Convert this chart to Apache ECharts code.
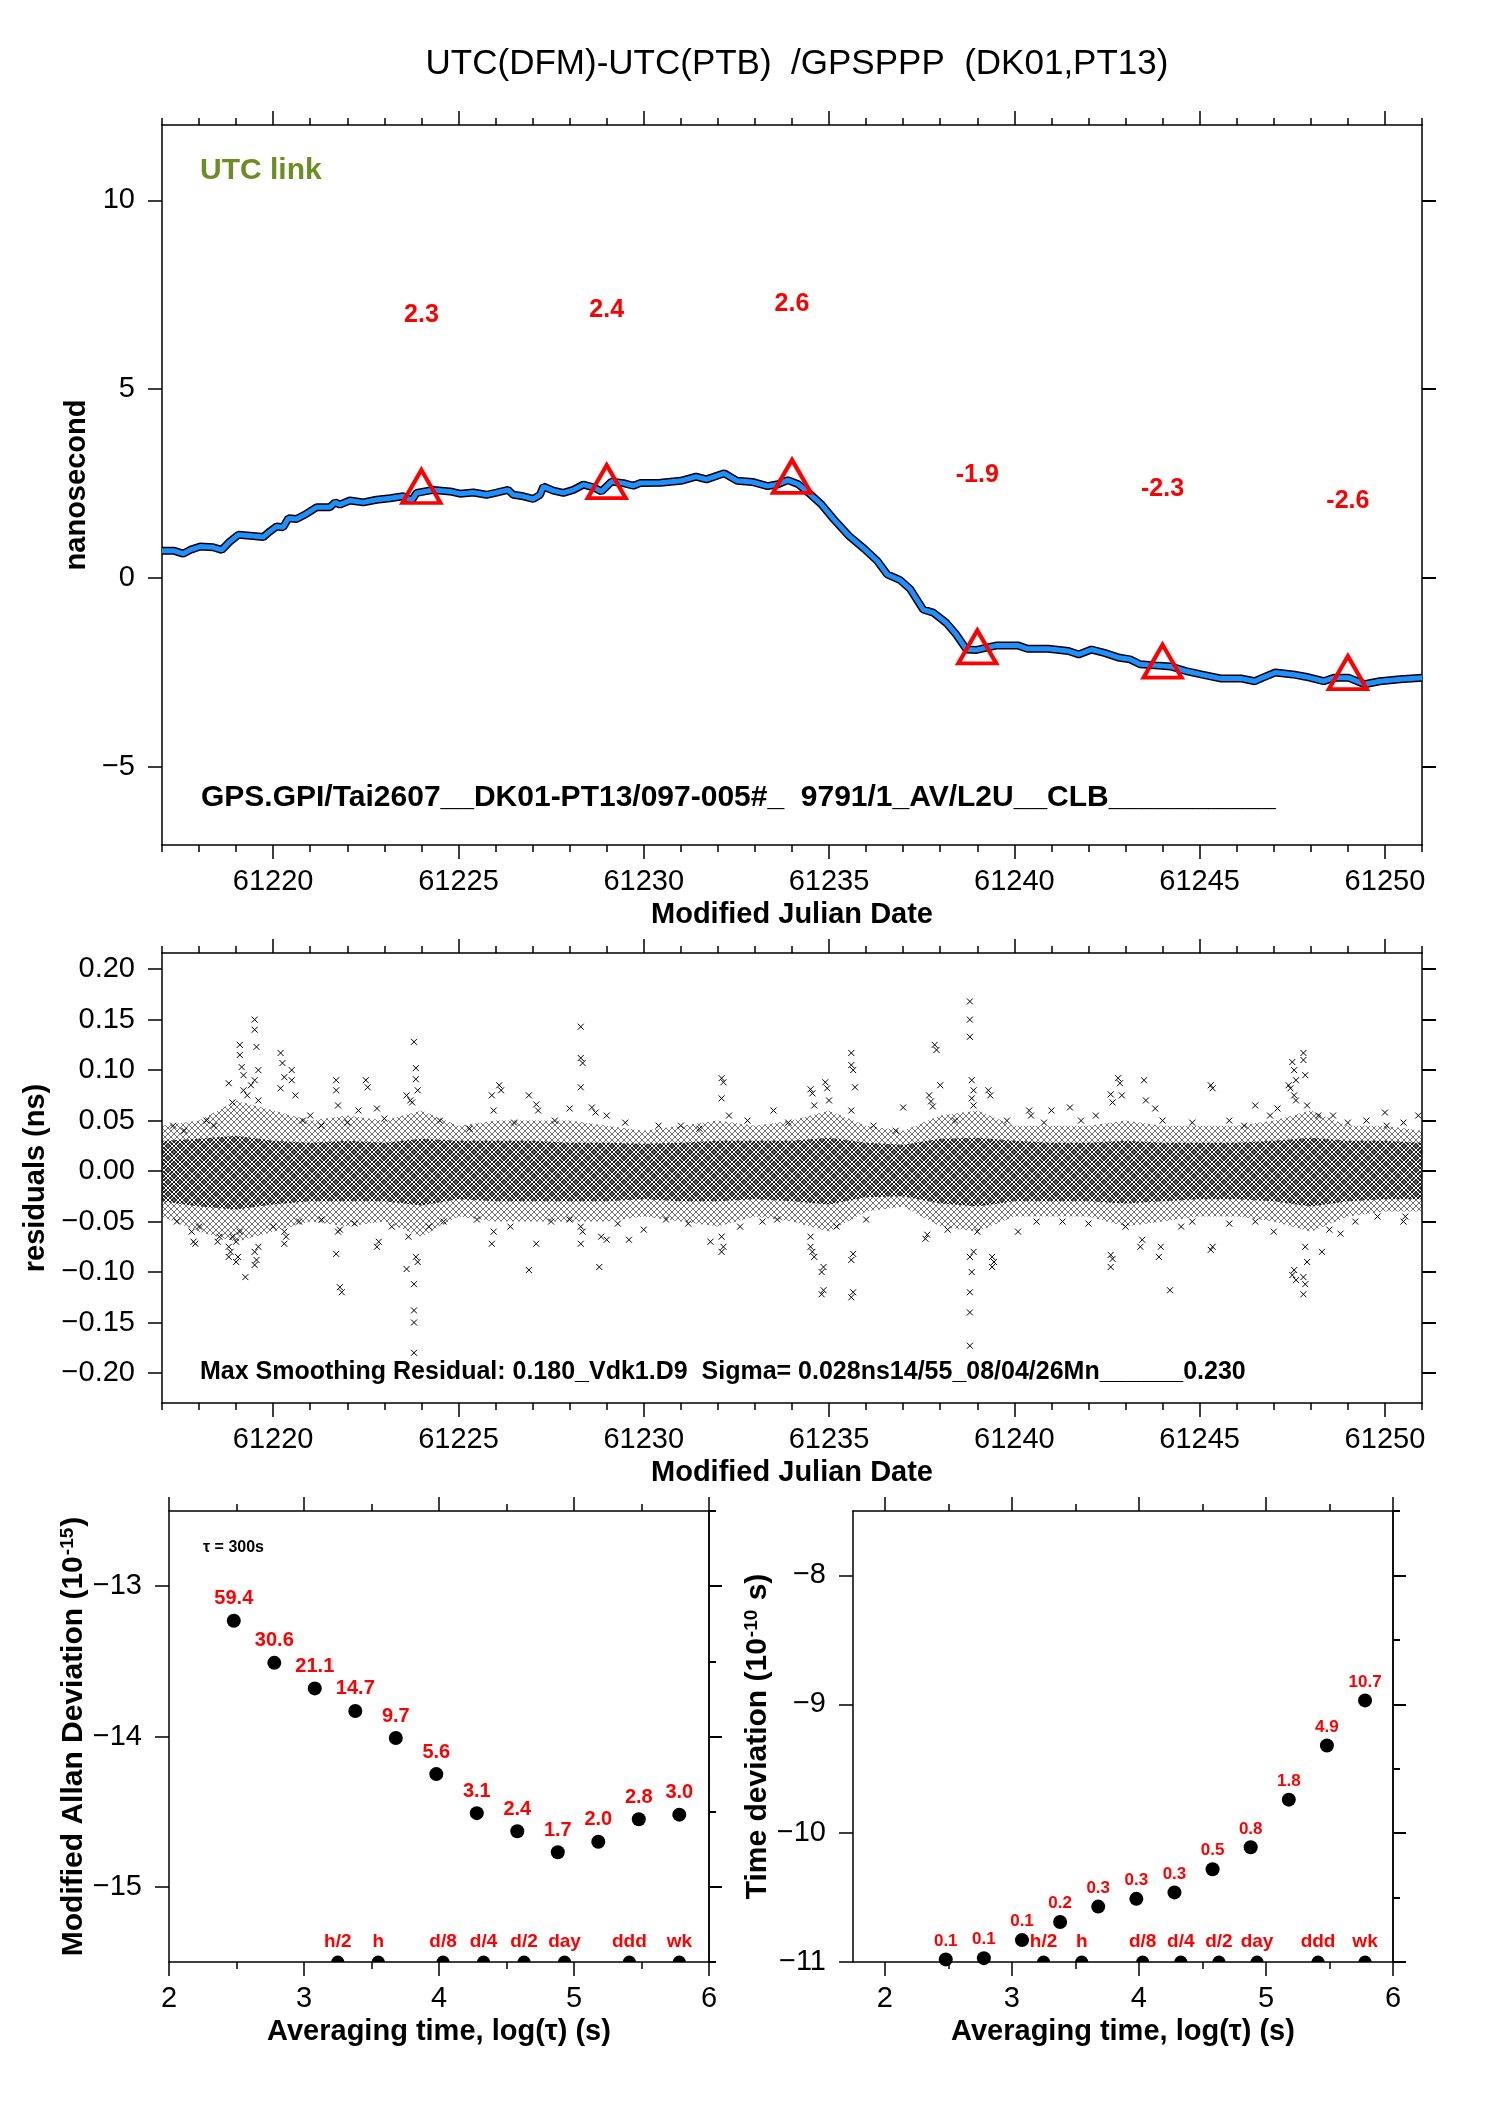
<!DOCTYPE html>
<html>
<head>
<meta charset="utf-8">
<title>UTC(DFM)-UTC(PTB) /GPSPPP (DK01,PT13)</title>
<script src="https://cdn.jsdelivr.net/npm/echarts@6/dist/echarts.min.js"></script>
<style>
  html, body { margin: 0; padding: 0; background: #fff; }
  #main { width: 1488px; height: 2105px; }
</style>
</head>
<body>
<div id="main"></div>
<script>
// ---- top panel: smoothed link UTC(DFM)-UTC(PTB), ns ----
const linkMjd = [61217.0,61217.31,61217.57,61217.76,61218.03,61218.38,61218.61,61218.83,61219.06,61219.46,
  61219.73,61219.91,61220.09,61220.27,61220.41,61220.63,61220.9,61221.17,61221.53,61221.67,
  61221.8,61222.07,61222.43,61222.79,61223.15,61223.51,61223.74,61223.87,61224.32,61224.77,
  61225.04,61225.4,61225.76,61226.03,61226.34,61226.48,61226.75,61227.02,61227.2,61227.29,
  61227.56,61227.83,61228.1,61228.37,61228.64,61228.86,61229.13,61229.45,61229.72,61229.9,
  61230.45,61231.0,61231.41,61231.69,61232.17,61232.52,61232.93,61233.34,61233.62,61233.89,
  61234.17,61234.44,61234.79,61235.13,61235.54,61235.96,61236.3,61236.57,61236.92,61237.19,
  61237.54,61237.81,61238.16,61238.43,61238.71,61238.98,61239.26,61239.53,61240.09,61240.36,
  61240.91,61241.46,61241.74,61242.08,61242.43,61242.84,61243.12,61243.39,61243.8,61244.22,
  61244.63,61245.04,61245.59,61246.14,61246.49,61246.69,61247.04,61247.52,61247.86,61248.35,
  61248.62,61249.03,61249.45,61249.86,61250.41,61251.0];
const linkNs = [0.72,0.72,0.64,0.74,0.83,0.81,0.74,0.96,1.14,1.11,
  1.08,1.23,1.36,1.34,1.58,1.56,1.70,1.87,1.87,2.00,
  1.94,2.05,2.00,2.07,2.11,2.16,2.05,2.25,2.33,2.29,
  2.23,2.26,2.20,2.26,2.33,2.20,2.16,2.09,2.20,2.42,
  2.31,2.25,2.33,2.47,2.40,2.29,2.55,2.51,2.44,2.51,
  2.52,2.57,2.68,2.61,2.77,2.57,2.54,2.43,2.48,2.59,
  2.48,2.26,1.95,1.55,1.11,0.76,0.45,0.09,-0.06,-0.30,
  -0.84,-0.92,-1.19,-1.50,-1.90,-1.91,-1.85,-1.79,-1.79,-1.88,
  -1.88,-1.94,-2.03,-1.90,-1.99,-2.12,-2.16,-2.29,-2.32,-2.35,
  -2.47,-2.56,-2.67,-2.67,-2.74,-2.65,-2.51,-2.56,-2.62,-2.74,
  -2.65,-2.65,-2.82,-2.74,-2.69,-2.65];

// red triangles (every 5 days) and their printed values
const markMjd = [61224, 61229, 61234, 61239, 61244, 61249];
const markNs = [2.42, 2.55, 2.69, -1.83, -2.21, -2.51];
const markText = ['2.3', '2.4', '2.6', '-1.9', '-2.3', '-2.6'];

const mjdMajor = [61220, 61225, 61230, 61235, 61240, 61245, 61250];
const mjdMinor = [61217,61218,61219,61220,61221,61222,61223,61224,61225,61226,61227,61228,
  61229,61230,61231,61232,61233,61234,61235,61236,61237,61238,61239,61240,61241,61242,
  61243,61244,61245,61246,61247,61248,61249,61250,61251];
const nsTicks = [-5, 0, 5, 10];

// ---- residuals panel ----
const resTicks = [-0.2, -0.15, -0.1, -0.05, 0, 0.05, 0.1, 0.15, 0.2];
const bandMjd = mjdMinor;
const outerUp = [0.045,0.05,0.07,0.06,0.05,0.055,0.05,0.06,0.045,0.05,0.05,0.05,0.045,0.04,0.045,0.05,0.045,0.05,
  0.06,0.045,0.04,0.055,0.06,0.045,0.045,0.045,0.05,0.045,0.045,0.045,0.05,0.06,0.045,0.045,0.04];
const outerLo = [-0.045,-0.06,-0.07,-0.06,-0.05,-0.055,-0.05,-0.065,-0.045,-0.05,-0.05,-0.05,-0.05,-0.045,-0.05,-0.055,-0.045,-0.05,
  -0.06,-0.04,-0.035,-0.055,-0.06,-0.045,-0.045,-0.045,-0.055,-0.05,-0.045,-0.045,-0.05,-0.06,-0.045,-0.04,-0.04];
const innerUp = [0.03,0.032,0.035,0.03,0.028,0.03,0.028,0.032,0.03,0.03,0.03,0.028,0.028,0.027,0.028,0.03,0.03,0.03,
  0.033,0.028,0.026,0.032,0.033,0.03,0.028,0.028,0.03,0.028,0.028,0.028,0.03,0.033,0.03,0.03,0.028];
const innerLo = [-0.03,-0.035,-0.038,-0.033,-0.03,-0.03,-0.03,-0.034,-0.028,-0.03,-0.03,-0.03,-0.03,-0.028,-0.03,-0.03,-0.028,-0.03,
  -0.033,-0.026,-0.025,-0.032,-0.035,-0.03,-0.03,-0.03,-0.032,-0.03,-0.028,-0.028,-0.03,-0.035,-0.03,-0.028,-0.028];
const residualPts = [
  [61218.8,0.087],[61218.9,0.068],[61219.1,0.125],[61219.1,0.115],[61219.15,0.103],[61219.2,0.095],[61219.2,0.080],
  [61219.5,0.150],[61219.5,0.140],[61219.55,0.123],[61219.6,0.100],[61219.5,0.090],[61219.4,0.085],[61219.3,0.075],
  [61219.6,0.070],[61220.2,0.117],[61220.25,0.107],[61220.3,0.093],[61220.2,0.082],[61220.5,0.100],[61220.5,0.090],
  [61220.6,0.075],[61221.0,0.055],[61221.7,0.090],[61221.7,0.080],[61221.75,0.065],[61222.5,0.090],[61222.55,0.083],
  [61222.8,0.062],[61222.3,0.060],[61223.6,0.075],[61223.7,0.070],[61223.75,0.068],[61223.8,0.128],[61223.85,0.102],
  [61223.85,0.091],[61223.9,0.080],[61225.9,0.075],[61225.95,0.060],[61226.1,0.085],[61226.15,0.080],[61226.9,0.075],
  [61227.1,0.066],[61227.15,0.060],[61228.0,0.062],[61228.3,0.143],[61228.3,0.112],[61228.35,0.107],[61228.3,0.083],
  [61228.6,0.063],[61228.7,0.058],[61229.0,0.055],[61231.0,0.045],[61232.1,0.092],[61232.15,0.088],[61232.1,0.072],
  [61232.3,0.055],[61233.5,0.060],[61234.5,0.081],[61234.55,0.077],[61234.6,0.065],[61234.9,0.088],[61234.95,0.082],
  [61235.0,0.070],[61235.6,0.117],[61235.6,0.105],[61235.65,0.100],[61235.7,0.083],[61235.6,0.060],[61237.0,0.063],
  [61237.7,0.075],[61237.75,0.069],[61237.8,0.064],[61237.85,0.125],[61237.9,0.120],[61238.0,0.085],[61238.8,0.168],
  [61238.8,0.150],[61238.8,0.133],[61238.85,0.090],[61238.9,0.080],[61238.85,0.072],[61238.9,0.065],[61239.3,0.080],
  [61239.35,0.075],[61240.4,0.060],[61240.45,0.055],[61241.0,0.060],[61241.5,0.063],[61242.6,0.076],[61242.65,0.068],
  [61242.8,0.092],[61242.85,0.087],[61242.9,0.075],[61243.5,0.090],[61243.55,0.070],[61243.8,0.062],[61245.3,0.085],
  [61245.35,0.082],[61246.5,0.065],[61247.1,0.062],[61247.4,0.085],[61247.45,0.082],[61247.5,0.108],[61247.55,0.100],
  [61247.6,0.090],[61247.55,0.075],[61247.6,0.070],[61247.8,0.117],[61247.8,0.110],[61247.85,0.095],[61247.9,0.065],
  [61248.6,0.055],[61250.0,0.058],[61250.05,0.045],[61250.9,0.055],
  [61217.8,-0.060],[61217.85,-0.070],[61217.9,-0.072],[61218.5,-0.070],[61218.55,-0.065],[61218.8,-0.085],
  [61218.85,-0.080],[61218.8,-0.075],[61218.9,-0.065],[61219.0,-0.090],[61219.05,-0.085],[61219.0,-0.070],
  [61219.1,-0.060],[61219.25,-0.105],[61219.5,-0.093],[61219.55,-0.088],[61219.5,-0.080],[61219.6,-0.075],
  [61220.3,-0.072],[61220.35,-0.065],[61220.3,-0.060],[61221.7,-0.082],[61221.75,-0.060],[61221.8,-0.058],
  [61221.8,-0.115],[61221.85,-0.120],[61222.8,-0.075],[61222.85,-0.070],[61223.6,-0.097],[61223.65,-0.065],
  [61223.8,-0.112],[61223.8,-0.138],[61223.8,-0.150],[61223.8,-0.180],[61223.85,-0.085],[61223.9,-0.090],
  [61224.2,-0.055],[61225.9,-0.072],[61225.95,-0.060],[61226.9,-0.098],[61227.1,-0.072],[61228.3,-0.072],
  [61228.35,-0.060],[61228.3,-0.055],[61228.8,-0.095],[61228.85,-0.065],[61229.0,-0.068],[61229.6,-0.068],
  [61230.0,-0.058],[61231.8,-0.070],[61232.1,-0.080],[61232.15,-0.075],[61232.1,-0.065],[61233.2,-0.050],
  [61234.5,-0.075],[61234.55,-0.080],[61234.6,-0.085],[61234.5,-0.065],[61234.8,-0.100],[61234.85,-0.095],
  [61234.8,-0.122],[61234.85,-0.118],[61235.6,-0.125],[61235.65,-0.120],[61235.6,-0.088],[61235.65,-0.082],
  [61237.6,-0.067],[61237.65,-0.063],[61238.8,-0.173],[61238.8,-0.140],[61238.8,-0.120],[61238.85,-0.100],
  [61238.8,-0.085],[61238.9,-0.080],[61239.4,-0.095],[61239.45,-0.090],[61239.4,-0.085],[61240.1,-0.060],
  [61242.6,-0.095],[61242.65,-0.087],[61242.6,-0.083],[61243.4,-0.075],[61243.45,-0.068],[61243.9,-0.085],
  [61243.95,-0.075],[61244.2,-0.118],[61244.5,-0.055],[61245.3,-0.078],[61245.35,-0.075],[61247.5,-0.103],
  [61247.55,-0.098],[61247.6,-0.108],[61247.8,-0.122],[61247.85,-0.112],[61247.8,-0.105],[61247.9,-0.090],
  [61247.85,-0.075],[61248.3,-0.080],[61248.8,-0.062],[61250.5,-0.050],[61250.55,-0.045],
  [61217.3,0.045],[61217.6,0.040],[61218.2,0.050],[61218.4,0.045],[61220.8,0.050],[61221.3,0.045],[61222.0,0.048],
  [61223.0,0.052],[61224.5,0.050],[61225.3,0.042],[61226.5,0.048],[61227.6,0.050],[61229.5,0.048],[61230.4,0.045],
  [61231.5,0.042],[61232.8,0.050],[61233.9,0.048],[61236.2,0.045],[61236.8,0.040],[61238.4,0.050],[61239.8,0.050],
  [61240.8,0.048],[61241.8,0.050],[61242.2,0.055],[61244.0,0.050],[61244.8,0.048],[61245.8,0.050],[61246.2,0.045],
  [61246.9,0.055],[61248.2,0.055],[61249.0,0.048],[61249.5,0.050],[61250.5,0.048],
  [61217.4,-0.050],[61218.0,-0.055],[61220.0,-0.055],[61220.7,-0.050],[61221.3,-0.048],[61222.2,-0.052],
  [61223.2,-0.055],[61224.6,-0.050],[61225.5,-0.048],[61226.4,-0.055],[61227.5,-0.050],[61228.0,-0.048],
  [61229.3,-0.052],[61230.6,-0.048],[61231.2,-0.052],[61232.6,-0.055],[61233.6,-0.048],[61235.2,-0.055],
  [61236.0,-0.048],[61238.2,-0.058],[61239.0,-0.060],[61240.6,-0.050],[61241.3,-0.050],[61242.0,-0.052],
  [61243.0,-0.055],[61244.8,-0.050],[61245.8,-0.052],[61246.5,-0.050],[61247.0,-0.060],[61248.5,-0.058],
  [61249.2,-0.050],[61249.8,-0.045]
];

// ---- stability panels ----
const logTau = [2.48, 2.78, 3.08, 3.38, 3.68, 3.98, 4.28, 4.58, 4.88, 5.18, 5.48, 5.78];
const madevLog = [-13.23, -13.51, -13.68, -13.83, -14.01, -14.25, -14.51, -14.63, -14.77, -14.70, -14.55, -14.52];
const madevText = ['59.4', '30.6', '21.1', '14.7', '9.7', '5.6', '3.1', '2.4', '1.7', '2.0', '2.8', '3.0'];
const tdevLog = [-10.98, -10.97, -10.83, -10.69, -10.57, -10.51, -10.46, -10.28, -10.11, -9.74, -9.32, -8.97];
const tdevText = ['0.1', '0.1', '0.1', '0.2', '0.3', '0.3', '0.3', '0.5', '0.8', '1.8', '4.9', '10.7'];
const spanLog = [3.25, 3.55, 4.03, 4.33, 4.63, 4.93, 5.41, 5.78];
const spanText = ['h/2', 'h', 'd/8', 'd/4', 'd/2', 'day', 'ddd', 'wk'];
const tauMajor = [2, 3, 4, 5, 6];
const tauMinor = [2.5, 3.5, 4.5, 5.5];
const madevTicks = [-15, -14, -13];
const madevMinor = [-15.5, -15, -14.5, -14, -13.5, -13, -12.5];
const tdevTicks = [-11, -10, -9, -8];
const tdevMinor = [-11, -10.5, -10, -9.5, -9, -8.5, -8, -7.5];

const FONT = '"Liberation Sans", Arial, Helvetica, sans-serif';
const AX = { color: '#000', width: 1.5 };
const RED = '#ff0000';

const plain = v => String(v);
const minus = v => (v < 0 ? '\u2212' : '') + Math.abs(v);
const minus2 = v => (v < 0 ? '\u2212' : '') + Math.abs(v).toFixed(2);

// four x axes per panel: bottom with labels, bottom minor, top major, top minor
function frameX(grid, min, max, major, minor, name) {
  const base = { type: 'value', gridIndex: grid, min: min, max: max, splitLine: { show: false } };
  return [
    Object.assign({}, base, {
      position: 'bottom',
      axisLine: { onZero: false, lineStyle: AX },
      axisTick: { length: 14, customValues: major, lineStyle: AX },
      axisLabel: { customValues: major, formatter: plain, margin: 22, fontSize: 29, color: '#000', fontFamily: FONT },
      name: name, nameLocation: 'middle', nameGap: 55,
      nameTextStyle: { fontSize: 29, fontWeight: 'bold', color: '#000', fontFamily: FONT }
    }),
    Object.assign({}, base, {
      position: 'bottom', axisLine: { show: false, onZero: false },
      axisTick: { length: 7, customValues: minor, lineStyle: AX }, axisLabel: { show: false }
    }),
    Object.assign({}, base, {
      position: 'top', axisLine: { onZero: false, lineStyle: AX },
      axisTick: { length: 14, customValues: major, lineStyle: AX }, axisLabel: { show: false }
    }),
    Object.assign({}, base, {
      position: 'top', axisLine: { show: false, onZero: false },
      axisTick: { length: 7, customValues: minor, lineStyle: AX }, axisLabel: { show: false }
    })
  ];
}

function leftY(grid, min, max, ticks, fmt, name, nameGap, nameStyle) {
  return {
    type: 'value', gridIndex: grid, position: 'left', min: min, max: max,
    splitLine: { show: false },
    axisLine: { show: true, onZero: false, lineStyle: AX },
    axisTick: { show: true, length: 14, customValues: ticks, lineStyle: AX },
    axisLabel: { customValues: ticks, formatter: fmt, margin: 27, fontSize: 29, color: '#000', fontFamily: FONT },
    name: name, nameLocation: 'middle', nameGap: nameGap, nameTextStyle: nameStyle
  };
}

function rightY(grid, min, max, ticks, len) {
  return {
    type: 'value', gridIndex: grid, position: 'right', min: min, max: max,
    splitLine: { show: false },
    axisLine: { show: true, onZero: false, lineStyle: AX },
    axisTick: { show: true, length: len, customValues: ticks, lineStyle: { color: '#000', width: 2 } },
    axisLabel: { show: false }
  };
}

function crossFill(step, alpha) {
  const c = document.createElement('canvas');
  c.width = step; c.height = step;
  const g = c.getContext('2d');
  g.strokeStyle = 'rgba(0,0,0,' + alpha + ')';
  g.lineWidth = 1;
  g.beginPath();
  g.moveTo(0, 0); g.lineTo(step, step);
  g.moveTo(step, 0); g.lineTo(0, step);
  g.stroke();
  return { type: 'pattern', image: c, repeat: 'repeat' };
}

function bandSeries(up, lo, fill) {
  return {
    type: 'custom', xAxisIndex: 4, yAxisIndex: 2, silent: true, z: 1,
    data: [[bandMjd[0], 0]],
    renderItem: function (params, api) {
      const pts = [];
      for (let i = 0; i < bandMjd.length; i++) pts.push(api.coord([bandMjd[i], up[i]]));
      for (let i = bandMjd.length - 1; i >= 0; i--) pts.push(api.coord([bandMjd[i], lo[i]]));
      return { type: 'polygon', shape: { points: pts }, style: { fill: fill, stroke: null } };
    }
  };
}

const boldName = { fontSize: 29, fontWeight: 'bold', color: '#000', fontFamily: FONT };
const supName = {
  fontFamily: FONT, color: '#000',
  rich: {
    b: { fontSize: 30, fontWeight: 'bold', fontFamily: FONT, color: '#000' },
    s: { fontSize: 19, fontWeight: 'bold', fontFamily: FONT, color: '#000', verticalAlign: 'top', padding: [0, 1, 12, 1] }
  }
};
const semicircle = 'path://M0,10 A10,10 0 0 1 20,10 Z';

const chart = echarts.init(document.getElementById('main'));
chart.setOption({
  animation: false,
  backgroundColor: '#fff',
  textStyle: { fontFamily: FONT },
  title: {
    text: 'UTC(DFM)-UTC(PTB)  /GPSPPP  (DK01,PT13)',
    left: 797, top: 47, textAlign: 'center', padding: 0,
    textStyle: { fontSize: 35, fontWeight: 'normal', color: '#000', fontFamily: FONT }
  },
  grid: [
    { left: 162, top: 125, width: 1260, height: 720 },
    { left: 162, top: 953, width: 1260, height: 450 },
    { left: 169, top: 1511, width: 540, height: 451 },
    { left: 853, top: 1511, width: 540, height: 451 }
  ],
  xAxis: [].concat(
    frameX(0, 61217, 61251, mjdMajor, mjdMinor, 'Modified Julian Date'),
    frameX(1, 61217, 61251, mjdMajor, mjdMinor, 'Modified Julian Date'),
    frameX(2, 2, 6, tauMajor, tauMinor, 'Averaging time, log(\u03c4) (s)'),
    frameX(3, 1.75, 6, tauMajor, tauMinor, 'Averaging time, log(\u03c4) (s)')
  ),
  yAxis: [
    leftY(0, -7.08, 12, nsTicks, minus, 'nanosecond', 55, boldName),
    rightY(0, -7.08, 12, nsTicks, 14),
    leftY(1, -0.2297, 0.216, resTicks, minus2, 'residuals (ns)', 96, boldName),
    rightY(1, -0.2297, 0.216, resTicks, 14),
    leftY(2, -15.5, -12.5, madevTicks, minus, '{b|Modified Allan Deviation (10}{s|-15}{b|)}', 78, supName),
    rightY(2, -15.5, -12.5, madevTicks, 13),
    rightY(2, -15.5, -12.5, madevMinor, 7),
    leftY(3, -11, -7.5, tdevTicks, minus, '{b|Time deviation (10}{s|-10}{b| s)}', 80, supName),
    rightY(3, -11, -7.5, tdevTicks, 13),
    rightY(3, -11, -7.5, tdevMinor, 7)
  ],
  graphic: [
    { type: 'text', left: 200, top: 156, style: { text: 'UTC link', fill: '#6b8e23', font: 'bold 30px ' + FONT } },
    { type: 'text', left: 201, top: 783, style: { text: 'GPS.GPI/Tai2607__DK01-PT13/097-005#_  9791/1_AV/L2U__CLB__________', fill: '#000', font: 'bold 30px ' + FONT } },
    { type: 'text', left: 200, top: 1360, style: { text: 'Max Smoothing Residual: 0.180_Vdk1.D9  Sigma= 0.028ns14/55_08/04/26Mn______0.230', fill: '#000', font: 'bold 25px ' + FONT } },
    { type: 'text', left: 203, top: 1540, style: { text: '\u03c4 = 300s', fill: '#000', font: 'bold 16px ' + FONT } }
  ],
  series: [
    {
      type: 'line', xAxisIndex: 0, yAxisIndex: 0, showSymbol: false, z: 2,
      data: linkMjd.map((m, i) => [m, linkNs[i]]),
      lineStyle: { color: '#000', width: 8 }
    },
    {
      type: 'line', xAxisIndex: 0, yAxisIndex: 0, showSymbol: false, z: 3,
      data: linkMjd.map((m, i) => [m, linkNs[i]]),
      lineStyle: { color: '#1e90ff', width: 5 }
    },
    {
      type: 'scatter', xAxisIndex: 0, yAxisIndex: 0, z: 4,
      symbol: 'triangle', symbolSize: [38, 33],
      itemStyle: { color: 'rgba(0,0,0,0)', borderColor: RED, borderWidth: 4, opacity: 1 },
      data: markMjd.map((m, i) => [m, markNs[i]]),
      label: {
        show: true, position: 'top', distance: 141,
        formatter: p => markText[p.dataIndex],
        color: RED, fontSize: 25, fontWeight: 'bold', fontFamily: FONT
      }
    },
    bandSeries(outerUp, outerLo, crossFill(6, 0.55)),
    bandSeries(innerUp, innerLo, crossFill(4, 0.85)),
    {
      type: 'scatter', xAxisIndex: 4, yAxisIndex: 2, z: 3,
      symbol: 'path://M0,0L8,8M8,0L0,8', symbolSize: 6,
      itemStyle: { color: 'rgba(0,0,0,0)', borderColor: '#000', borderWidth: 1, opacity: 1 },
      data: residualPts
    },
    {
      type: 'scatter', xAxisIndex: 8, yAxisIndex: 4, symbolSize: 14,
      itemStyle: { color: '#000', opacity: 1 },
      data: logTau.map((t, i) => [t, madevLog[i]]),
      label: {
        show: true, position: 'top', distance: 5,
        formatter: p => madevText[p.dataIndex],
        color: RED, fontSize: 20, fontWeight: 'bold', fontFamily: FONT
      }
    },
    {
      type: 'scatter', xAxisIndex: 8, yAxisIndex: 4, clip: false,
      symbol: semicircle, symbolSize: [13, 6.5], symbolOffset: [0, -3.25],
      itemStyle: { color: '#000', opacity: 1 },
      data: spanLog.map(t => [t, -15.5]),
      label: {
        show: true, position: 'top', distance: 4,
        formatter: p => spanText[p.dataIndex],
        color: RED, fontSize: 19, fontWeight: 'bold', fontFamily: FONT
      }
    },
    {
      type: 'scatter', xAxisIndex: 12, yAxisIndex: 7, symbolSize: 14,
      itemStyle: { color: '#000', opacity: 1 },
      data: logTau.map((t, i) => [t, tdevLog[i]]),
      label: {
        show: true, position: 'top', distance: 3,
        formatter: p => tdevText[p.dataIndex],
        color: RED, fontSize: 17, fontWeight: 'bold', fontFamily: FONT
      }
    },
    {
      type: 'scatter', xAxisIndex: 12, yAxisIndex: 7, clip: false,
      symbol: semicircle, symbolSize: [13, 6.5], symbolOffset: [0, -3.25],
      itemStyle: { color: '#000', opacity: 1 },
      data: spanLog.map(t => [t, -11]),
      label: {
        show: true, position: 'top', distance: 4,
        formatter: p => spanText[p.dataIndex],
        color: RED, fontSize: 19, fontWeight: 'bold', fontFamily: FONT
      }
    }
  ]
});
</script>
</body>
</html>
